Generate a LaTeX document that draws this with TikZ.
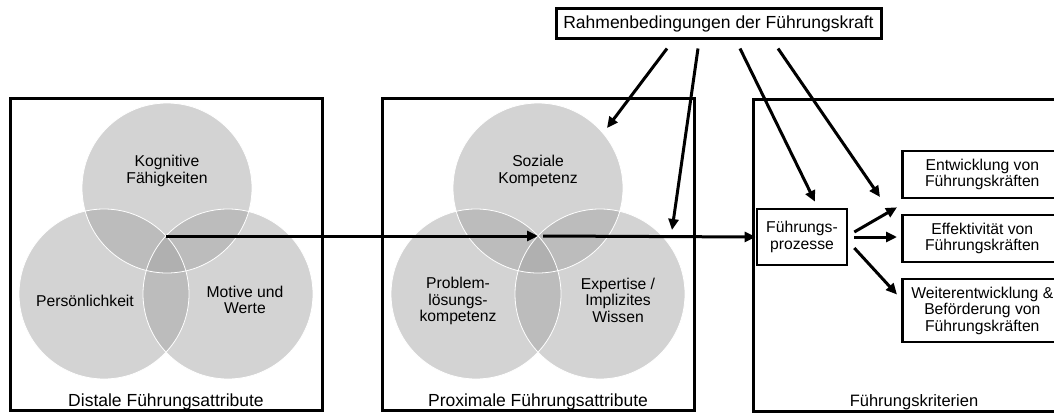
\documentclass[tikz,border=0pt]{standalone}
\usepackage{fontspec}
\setmainfont{Liberation Sans}
\usetikzlibrary{arrows.meta,positioning,calc}

\begin{document}
\begin{tikzpicture}[x=1pt,y=-1pt,>={Triangle[length=11pt,width=10pt]},
    txt/.style={align=center,inner sep=0pt,font=\fontsize{15.7}{16.5}\selectfont},
    big/.style={txt,font=\fontsize{17.5}{18}\selectfont},
    venn/.style={circle,minimum size=170pt,inner sep=0pt,fill={rgb,255:red,163;green,163;blue,163},fill opacity=0.48},
    frame/.style={draw,line width=3pt},
    box/.style={draw,line width=2.6pt,txt},
    arr/.style={->,line width=3pt}]
    \clip (0,0) rectangle (1054,412);
    % frames
    \node[frame,minimum width=312pt,minimum height=312pt] (dist) at (166,254) {};
    \node[frame,minimum width=312pt,minimum height=312pt] (prox) at (538,254) {};
    \draw[frame] (1070,99) -| (753,411) -- (1070,411);
    % distale attribute
    \node[venn] (kf) at (167,188) {};
    \node[venn] (pk) at (104,294) {};
    \node[venn] (mw) at (228,294) {};
    \foreach \c in {kf,pk,mw} \draw[white,line width=0.8pt] (\c.center) circle (85);
    \node[txt] at (167,171) {Kognitive\\Fähigkeiten};
    \node[txt] at (85,301) {Persönlichkeit};
    \node[txt] at (245,300) {Motive und\\Werte};
    \node[big,anchor=base] at (166,406) {Distale Führungsattribute};
    % proximale attribute
    \node[venn] (sk) at (538,188) {};
    \node[venn] (pl) at (476,294) {};
    \node[venn] (ex) at (600,294) {};
    \foreach \c in {sk,pl,ex} \draw[white,line width=0.8pt] (\c.center) circle (85);
    \node[txt] at (538,171) {Soziale\\Kompetenz};
    \node[txt] at (458,301) {Problem-\\lösungs-\\kompetenz};
    \node[txt] at (618,300) {Expertise /\\Implizites\\Wissen};
    \node[big,anchor=base] at (538,406) {Proximale Führungsattribute};
    % kriterien
    \node[box,minimum width=90pt,minimum height=56pt] (fp) at (802,237) {Führungs-\\prozesse};
    \node[box,anchor=west,minimum width=160pt,minimum height=47pt] (e1) at (901,174.5) {Entwicklung von\\Führungskräften};
    \node[box,anchor=west,minimum width=160pt,minimum height=47pt] (e2) at (901,238.5) {Effektivität von\\Führungskräften};
    \node[box,anchor=west,minimum width=160pt,minimum height=63pt] (e3) at (901,310.5) {Weiterentwicklung \&\\Beförderung von\\Führungskräften};
    \node[big,anchor=base,font=\fontsize{16.5}{17}\selectfont] at (914,406) {Führungskriterien};
    % rahmen
    \node[box,big,line width=3pt,minimum width=325pt,minimum height=30pt] (rb) at (718.5,24) {Rahmenbedingungen der Führungskraft};
    \coordinate (d0) at (166,236);
    \coordinate (p0) at (538,236);
    \draw[arr] (d0) -- (p0);
    \draw[arr] ([xshift=5pt]p0) -- (fp.west);
    \draw[arr] ([xshift=-51.5pt,yshift=-8pt]rb.south) -- (607,128);
    \draw[arr] ([xshift=-20.5pt,yshift=-8pt]rb.south) -- (672,230);
    \draw[arr] ([xshift=21.5pt,yshift=-8pt]rb.south) -- ([xshift=13pt,yshift=6pt]fp.north);
    \draw[arr] ([xshift=59.5pt,yshift=-8pt]rb.south) -- (880,197);
    \draw[arr] ([xshift=6pt,yshift=5pt]fp.east) -- ([xshift=-4pt,yshift=-8pt]e1.south west);
    \draw[arr] ([xshift=6pt]fp.east) -- ([xshift=-4pt]e2.west |- fp.east);
    \draw[arr] ([xshift=6pt,yshift=-11pt]fp.east) -- ([xshift=-4pt,yshift=16pt]e3.west);
\end{tikzpicture}
\end{document}
